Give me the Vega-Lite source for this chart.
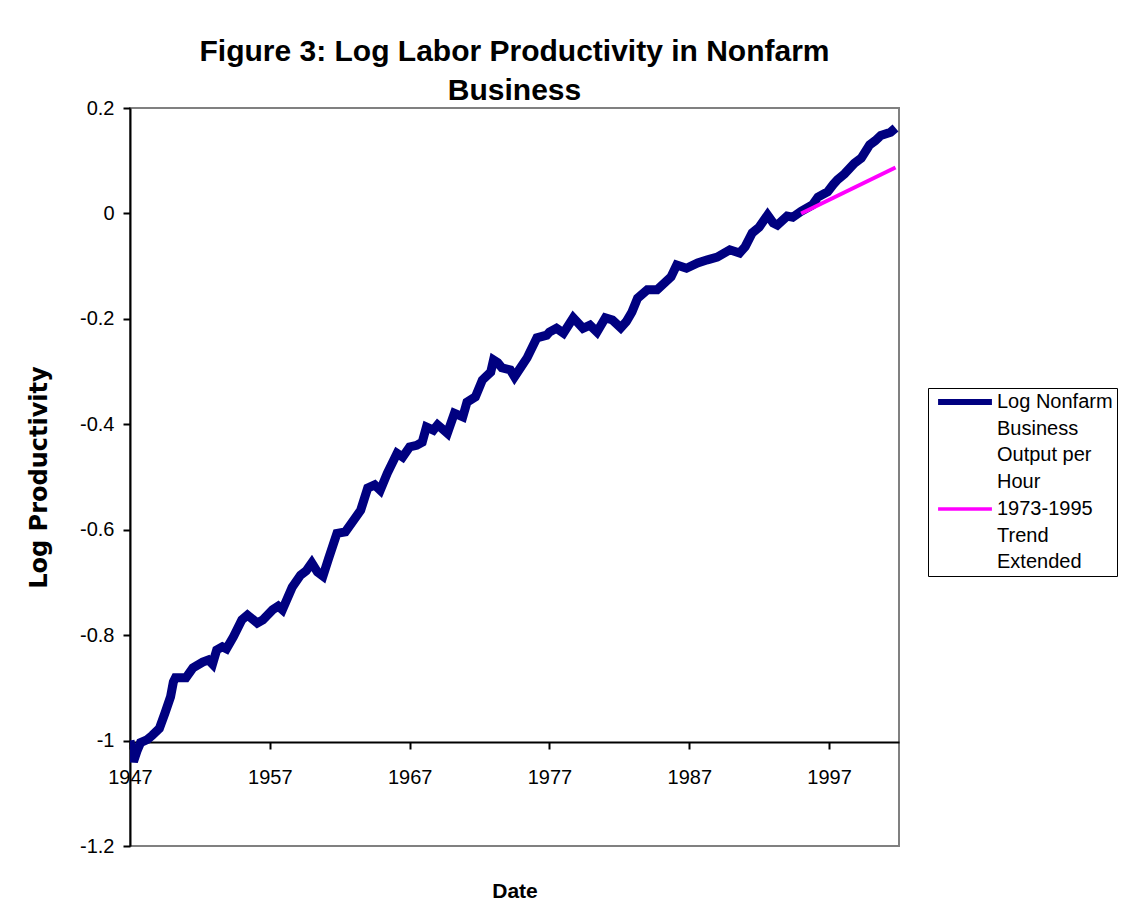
{
  "$schema": "https://vega.github.io/schema/vega-lite/v6.json",
  "autosize": {"type": "none"},
  "padding": {"left": 130, "top": 108, "right": 234, "bottom": 76},
  "width": 769,
  "height": 738,
  "background": "white",
  "config": {
    "font": "Liberation Sans",
    "view": {"stroke": "#808080", "strokeWidth": 2}
  },
  "title": {
    "text": ["Figure 3: Log Labor Productivity in Nonfarm", "Business"],
    "fontSize": 30,
    "fontWeight": "bold",
    "font": "Liberation Sans",
    "color": "black",
    "lineHeight": 39,
    "anchor": "middle",
    "frame": "group",
    "offset": -8
  },
  "data": {
    "values": [
      {"date": 1947.0, "value": -1.0, "series": "Log Nonfarm Business Output per Hour"},
      {"date": 1947.25, "value": -1.04, "series": "Log Nonfarm Business Output per Hour"},
      {"date": 1947.5, "value": -1.02, "series": "Log Nonfarm Business Output per Hour"},
      {"date": 1947.75, "value": -1.004, "series": "Log Nonfarm Business Output per Hour"},
      {"date": 1948.25, "value": -0.998, "series": "Log Nonfarm Business Output per Hour"},
      {"date": 1948.6, "value": -0.99, "series": "Log Nonfarm Business Output per Hour"},
      {"date": 1949.1, "value": -0.977, "series": "Log Nonfarm Business Output per Hour"},
      {"date": 1949.5, "value": -0.948, "series": "Log Nonfarm Business Output per Hour"},
      {"date": 1949.9, "value": -0.917, "series": "Log Nonfarm Business Output per Hour"},
      {"date": 1950.1, "value": -0.889, "series": "Log Nonfarm Business Output per Hour"},
      {"date": 1950.25, "value": -0.881, "series": "Log Nonfarm Business Output per Hour"},
      {"date": 1951.0, "value": -0.881, "series": "Log Nonfarm Business Output per Hour"},
      {"date": 1951.5, "value": -0.862, "series": "Log Nonfarm Business Output per Hour"},
      {"date": 1952.2, "value": -0.851, "series": "Log Nonfarm Business Output per Hour"},
      {"date": 1952.6, "value": -0.847, "series": "Log Nonfarm Business Output per Hour"},
      {"date": 1952.9, "value": -0.855, "series": "Log Nonfarm Business Output per Hour"},
      {"date": 1953.2, "value": -0.828, "series": "Log Nonfarm Business Output per Hour"},
      {"date": 1953.6, "value": -0.822, "series": "Log Nonfarm Business Output per Hour"},
      {"date": 1953.9, "value": -0.826, "series": "Log Nonfarm Business Output per Hour"},
      {"date": 1954.4, "value": -0.803, "series": "Log Nonfarm Business Output per Hour"},
      {"date": 1955.0, "value": -0.771, "series": "Log Nonfarm Business Output per Hour"},
      {"date": 1955.4, "value": -0.762, "series": "Log Nonfarm Business Output per Hour"},
      {"date": 1956.1, "value": -0.777, "series": "Log Nonfarm Business Output per Hour"},
      {"date": 1956.5, "value": -0.771, "series": "Log Nonfarm Business Output per Hour"},
      {"date": 1957.2, "value": -0.752, "series": "Log Nonfarm Business Output per Hour"},
      {"date": 1957.6, "value": -0.745, "series": "Log Nonfarm Business Output per Hour"},
      {"date": 1957.9, "value": -0.752, "series": "Log Nonfarm Business Output per Hour"},
      {"date": 1958.6, "value": -0.709, "series": "Log Nonfarm Business Output per Hour"},
      {"date": 1959.2, "value": -0.686, "series": "Log Nonfarm Business Output per Hour"},
      {"date": 1959.6, "value": -0.678, "series": "Log Nonfarm Business Output per Hour"},
      {"date": 1960.0, "value": -0.663, "series": "Log Nonfarm Business Output per Hour"},
      {"date": 1960.4, "value": -0.68, "series": "Log Nonfarm Business Output per Hour"},
      {"date": 1960.8, "value": -0.688, "series": "Log Nonfarm Business Output per Hour"},
      {"date": 1961.2, "value": -0.655, "series": "Log Nonfarm Business Output per Hour"},
      {"date": 1961.8, "value": -0.607, "series": "Log Nonfarm Business Output per Hour"},
      {"date": 1962.4, "value": -0.604, "series": "Log Nonfarm Business Output per Hour"},
      {"date": 1963.0, "value": -0.582, "series": "Log Nonfarm Business Output per Hour"},
      {"date": 1963.5, "value": -0.563, "series": "Log Nonfarm Business Output per Hour"},
      {"date": 1964.0, "value": -0.521, "series": "Log Nonfarm Business Output per Hour"},
      {"date": 1964.5, "value": -0.515, "series": "Log Nonfarm Business Output per Hour"},
      {"date": 1964.9, "value": -0.525, "series": "Log Nonfarm Business Output per Hour"},
      {"date": 1965.4, "value": -0.493, "series": "Log Nonfarm Business Output per Hour"},
      {"date": 1966.1, "value": -0.455, "series": "Log Nonfarm Business Output per Hour"},
      {"date": 1966.5, "value": -0.462, "series": "Log Nonfarm Business Output per Hour"},
      {"date": 1967.0, "value": -0.443, "series": "Log Nonfarm Business Output per Hour"},
      {"date": 1967.5, "value": -0.44, "series": "Log Nonfarm Business Output per Hour"},
      {"date": 1967.9, "value": -0.434, "series": "Log Nonfarm Business Output per Hour"},
      {"date": 1968.2, "value": -0.405, "series": "Log Nonfarm Business Output per Hour"},
      {"date": 1968.7, "value": -0.411, "series": "Log Nonfarm Business Output per Hour"},
      {"date": 1969.0, "value": -0.401, "series": "Log Nonfarm Business Output per Hour"},
      {"date": 1969.4, "value": -0.41, "series": "Log Nonfarm Business Output per Hour"},
      {"date": 1969.7, "value": -0.417, "series": "Log Nonfarm Business Output per Hour"},
      {"date": 1970.2, "value": -0.379, "series": "Log Nonfarm Business Output per Hour"},
      {"date": 1970.8, "value": -0.386, "series": "Log Nonfarm Business Output per Hour"},
      {"date": 1971.1, "value": -0.358, "series": "Log Nonfarm Business Output per Hour"},
      {"date": 1971.7, "value": -0.348, "series": "Log Nonfarm Business Output per Hour"},
      {"date": 1972.2, "value": -0.316, "series": "Log Nonfarm Business Output per Hour"},
      {"date": 1972.8, "value": -0.301, "series": "Log Nonfarm Business Output per Hour"},
      {"date": 1973.0, "value": -0.278, "series": "Log Nonfarm Business Output per Hour"},
      {"date": 1973.3, "value": -0.283, "series": "Log Nonfarm Business Output per Hour"},
      {"date": 1973.6, "value": -0.293, "series": "Log Nonfarm Business Output per Hour"},
      {"date": 1974.2, "value": -0.297, "series": "Log Nonfarm Business Output per Hour"},
      {"date": 1974.5, "value": -0.31, "series": "Log Nonfarm Business Output per Hour"},
      {"date": 1975.0, "value": -0.29, "series": "Log Nonfarm Business Output per Hour"},
      {"date": 1975.4, "value": -0.274, "series": "Log Nonfarm Business Output per Hour"},
      {"date": 1976.1, "value": -0.236, "series": "Log Nonfarm Business Output per Hour"},
      {"date": 1976.8, "value": -0.231, "series": "Log Nonfarm Business Output per Hour"},
      {"date": 1977.0, "value": -0.225, "series": "Log Nonfarm Business Output per Hour"},
      {"date": 1977.5, "value": -0.218, "series": "Log Nonfarm Business Output per Hour"},
      {"date": 1978.0, "value": -0.227, "series": "Log Nonfarm Business Output per Hour"},
      {"date": 1978.7, "value": -0.198, "series": "Log Nonfarm Business Output per Hour"},
      {"date": 1979.4, "value": -0.218, "series": "Log Nonfarm Business Output per Hour"},
      {"date": 1979.9, "value": -0.212, "series": "Log Nonfarm Business Output per Hour"},
      {"date": 1980.4, "value": -0.225, "series": "Log Nonfarm Business Output per Hour"},
      {"date": 1981.0, "value": -0.198, "series": "Log Nonfarm Business Output per Hour"},
      {"date": 1981.5, "value": -0.202, "series": "Log Nonfarm Business Output per Hour"},
      {"date": 1982.1, "value": -0.217, "series": "Log Nonfarm Business Output per Hour"},
      {"date": 1982.5, "value": -0.205, "series": "Log Nonfarm Business Output per Hour"},
      {"date": 1982.9, "value": -0.187, "series": "Log Nonfarm Business Output per Hour"},
      {"date": 1983.3, "value": -0.161, "series": "Log Nonfarm Business Output per Hour"},
      {"date": 1984.0, "value": -0.145, "series": "Log Nonfarm Business Output per Hour"},
      {"date": 1984.7, "value": -0.145, "series": "Log Nonfarm Business Output per Hour"},
      {"date": 1985.3, "value": -0.13, "series": "Log Nonfarm Business Output per Hour"},
      {"date": 1985.7, "value": -0.12, "series": "Log Nonfarm Business Output per Hour"},
      {"date": 1986.1, "value": -0.098, "series": "Log Nonfarm Business Output per Hour"},
      {"date": 1986.8, "value": -0.104, "series": "Log Nonfarm Business Output per Hour"},
      {"date": 1987.6, "value": -0.094, "series": "Log Nonfarm Business Output per Hour"},
      {"date": 1988.3, "value": -0.088, "series": "Log Nonfarm Business Output per Hour"},
      {"date": 1989.0, "value": -0.083, "series": "Log Nonfarm Business Output per Hour"},
      {"date": 1989.9, "value": -0.069, "series": "Log Nonfarm Business Output per Hour"},
      {"date": 1990.6, "value": -0.075, "series": "Log Nonfarm Business Output per Hour"},
      {"date": 1991.0, "value": -0.063, "series": "Log Nonfarm Business Output per Hour"},
      {"date": 1991.5, "value": -0.037, "series": "Log Nonfarm Business Output per Hour"},
      {"date": 1992.0, "value": -0.026, "series": "Log Nonfarm Business Output per Hour"},
      {"date": 1992.6, "value": -0.003, "series": "Log Nonfarm Business Output per Hour"},
      {"date": 1993.0, "value": -0.018, "series": "Log Nonfarm Business Output per Hour"},
      {"date": 1993.3, "value": -0.022, "series": "Log Nonfarm Business Output per Hour"},
      {"date": 1994.0, "value": -0.005, "series": "Log Nonfarm Business Output per Hour"},
      {"date": 1994.4, "value": -0.007, "series": "Log Nonfarm Business Output per Hour"},
      {"date": 1995.0, "value": 0.004, "series": "Log Nonfarm Business Output per Hour"},
      {"date": 1995.8, "value": 0.016, "series": "Log Nonfarm Business Output per Hour"},
      {"date": 1996.2, "value": 0.031, "series": "Log Nonfarm Business Output per Hour"},
      {"date": 1996.9, "value": 0.041, "series": "Log Nonfarm Business Output per Hour"},
      {"date": 1997.3, "value": 0.055, "series": "Log Nonfarm Business Output per Hour"},
      {"date": 1997.6, "value": 0.064, "series": "Log Nonfarm Business Output per Hour"},
      {"date": 1998.1, "value": 0.075, "series": "Log Nonfarm Business Output per Hour"},
      {"date": 1998.8, "value": 0.095, "series": "Log Nonfarm Business Output per Hour"},
      {"date": 1999.3, "value": 0.105, "series": "Log Nonfarm Business Output per Hour"},
      {"date": 1999.9, "value": 0.13, "series": "Log Nonfarm Business Output per Hour"},
      {"date": 2000.3, "value": 0.138, "series": "Log Nonfarm Business Output per Hour"},
      {"date": 2000.7, "value": 0.148, "series": "Log Nonfarm Business Output per Hour"},
      {"date": 2001.4, "value": 0.154, "series": "Log Nonfarm Business Output per Hour"},
      {"date": 2001.75, "value": 0.162, "series": "Log Nonfarm Business Output per Hour"},
      {"date": 1995.0, "value": 0.0, "series": "1973-1995 Trend Extended"},
      {"date": 2001.75, "value": 0.087, "series": "1973-1995 Trend Extended"}
    ]
  },
  "mark": {"type": "line", "clip": true, "strokeJoin": "miter"},
  "encoding": {
    "x": {
      "field": "date",
      "type": "quantitative",
      "scale": {"domain": [1947, 2002], "nice": false, "zero": false},
      "axis": {
        "title": "Date",
        "values": [1947, 1957, 1967, 1977, 1987, 1997],
        "format": "d",
        "grid": false,
        "offset": -104,
        "domainColor": "black",
        "domainWidth": 2,
        "tickColor": "black",
        "tickWidth": 2,
        "tickSize": 7,
        "labelPadding": 18,
        "labelFontSize": 20,
        "labelColor": "black",
        "labelFlush": false,
        "titleFontSize": 21,
        "titleFontWeight": "bold",
        "titleColor": "black",
        "titlePadding": 93
      }
    },
    "y": {
      "field": "value",
      "type": "quantitative",
      "scale": {"domain": [-1.2, 0.2], "nice": false, "zero": false},
      "axis": {
        "title": "Log Productivity",
        "values": [-1.2, -1, -0.8, -0.6, -0.4, -0.2, 0, 0.2],
        "labelExpr": "replace(format(datum.value, '.1~f'), '\u2212', '-')",
        "grid": false,
        "domainColor": "black",
        "domainWidth": 2,
        "tickColor": "black",
        "tickWidth": 2,
        "tickSize": 7,
        "labelPadding": 9,
        "labelFontSize": 20,
        "labelColor": "black",
        "titleFont": "DejaVu Sans",
        "titleFontSize": 24,
        "titleFontWeight": "bold",
        "titleColor": "black",
        "titlePadding": 28
      }
    },
    "color": {
      "field": "series",
      "type": "nominal",
      "sort": ["Log Nonfarm Business Output per Hour", "1973-1995 Trend Extended"],
      "scale": {
        "domain": ["Log Nonfarm Business Output per Hour", "1973-1995 Trend Extended"],
        "range": ["#000080", "#FF00FF"]
      },
      "legend": {
        "orient": "none",
        "legendX": 798,
        "legendY": 280,
        "title": null,
        "padding": 4,
        "rowPadding": 7,
        "strokeColor": "black",
        "fillColor": "white",
        "symbolType": "stroke",
        "symbolSize": 2900,
        "labelFontSize": 20,
        "labelColor": "black",
        "labelLimit": 0,
        "labelOffset": 5,
        "labelExpr": "datum.value === '1973-1995 Trend Extended' ? ['1973-1995', 'Trend', 'Extended'] : ['Log Nonfarm', 'Business', 'Output per', 'Hour']",
        "encode": {
          "symbols": {"update": {
            "x": {"value": 33},
            "strokeWidth": {"signal": "datum.value === '1973-1995 Trend Extended' ? 3.5 : 6"}
          }},
          "labels": {"update": {"x": {"value": 65}, "lineHeight": {"value": 26.5}}}
        }
      }
    },
    "strokeWidth": {
      "condition": {"test": "datum.series === '1973-1995 Trend Extended'", "value": 4},
      "value": 9
    },
    "order": {"field": "date", "type": "quantitative"}
  }
}
